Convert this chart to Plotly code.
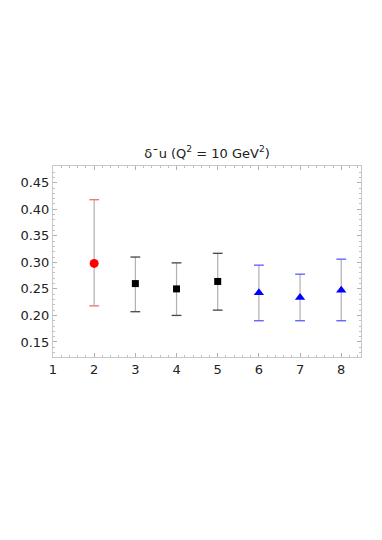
import plotly.graph_objects as go

# Data
red_x = [2]
red_y = [0.298]
red_lo = [0.218]
red_hi = [0.418]

blk_x = [3, 4, 5]
blk_y = [0.260, 0.250, 0.264]
blk_lo = [0.207, 0.200, 0.210]
blk_hi = [0.310, 0.299, 0.317]

blu_x = [6, 7, 8]
blu_y = [0.2425, 0.2337, 0.2475]
blu_lo = [0.190, 0.190, 0.190]
blu_hi = [0.2947, 0.2777, 0.306]

x_ticks = [1, 2, 3, 4, 5, 6, 7, 8]
y_ticks = [0.15, 0.20, 0.25, 0.30, 0.35, 0.40, 0.45]

fig = go.Figure()

def add_series(xs, ys, lo, hi, sym, size, color, capcolor):
    plus = [h - y for h, y in zip(hi, ys)]
    minus = [y - l for l, y in zip(lo, ys)]
    # gray vertical error lines
    fig.add_trace(go.Scatter(
        x=xs, y=ys, mode="markers",
        marker=dict(size=0.1, color="rgba(0,0,0,0)"),
        error_y=dict(type="data", symmetric=False, array=plus, arrayminus=minus,
                     color="#b0b0b0", thickness=1.2, width=0),
        showlegend=False, hoverinfo="skip"))
    # colored caps
    fig.add_trace(go.Scatter(
        x=xs + xs, y=lo + hi, mode="markers",
        marker=dict(symbol="line-ew", size=7, line=dict(color=capcolor, width=1.3)),
        showlegend=False, hoverinfo="skip"))
    # markers
    fig.add_trace(go.Scatter(
        x=xs, y=ys, mode="markers",
        marker=dict(symbol=sym, size=size, color=color, line=dict(width=0)),
        showlegend=False))

add_series(red_x, red_y, red_lo, red_hi, "circle", 9, "#ff0000", "#f07070")
add_series(blk_x, blk_y, blk_lo, blk_hi, "square", 7, "#000000", "#444444")
add_series(blu_x, blu_y, blu_lo, blu_hi, "triangle-up", 9, "#0000ff", "#5a5aff")

axis_common = dict(
    showgrid=False, zeroline=False, showline=True, linecolor="#c8c8c8", linewidth=1,
    mirror="ticks", ticks="inside", ticklen=4, tickcolor="#b0b0b0", tickwidth=1,
    tickfont=dict(family="DejaVu Sans", size=13, color="#222222"),
)

fig.update_xaxes(range=[1, 8.48], tickvals=x_ticks, ticktext=[str(v) for v in x_ticks],
                 minor=dict(dtick=0.2, tick0=1, ticks="inside", ticklen=2, tickcolor="#c0c0c0"),
                 **axis_common)
fig.update_yaxes(range=[0.1217, 0.4815], tickvals=y_ticks, ticktext=[f"{v:.2f}" for v in y_ticks],
                 minor=dict(dtick=0.01, tick0=0.1, ticks="inside", ticklen=2, tickcolor="#c0c0c0"),
                 **axis_common)

# page body adds an 8px offset; margins compensate
fig.update_layout(
    width=382, height=540,
    margin=dict(l=45, r=29, t=158, b=191),
    paper_bgcolor="white", plot_bgcolor="white",
    title=dict(text="δ¯u (Q<sup>2</sup> = 10 GeV<sup>2</sup>)", xref="paper", x=0.5,
               xanchor="center", y=1 - 145 / 540, yanchor="middle",
               font=dict(family="DejaVu Sans", size=13, color="#222222")),
)

fig.write_html("out.html")
